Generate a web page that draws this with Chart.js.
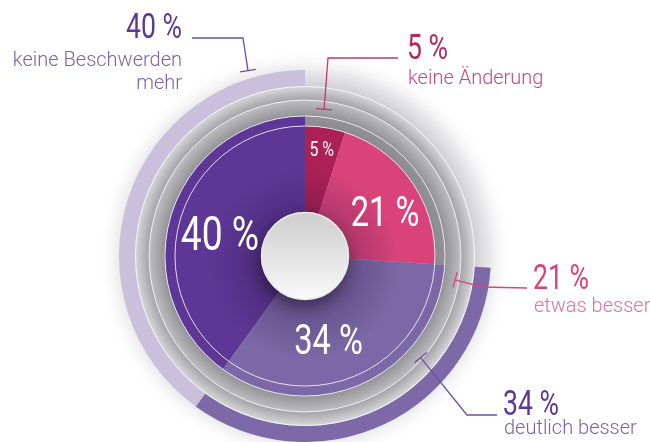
<!DOCTYPE html>
<html>
<head>
<meta charset="utf-8">
<script src="https://cdn.jsdelivr.net/npm/chart.js@4.4.1/dist/chart.umd.min.js"></script>
<style>
  html, body { margin: 0; padding: 0; background: #fff; }
  #wrap { width: 650px; height: 442px; position: relative; overflow: hidden; }
</style>
</head>
<body>
<div id="wrap"><canvas id="chart" width="650" height="442"></canvas></div>
<script>
// data
const categories = ['keine Änderung', 'etwas besser', 'deutlich besser', 'keine Beschwerden mehr'];
const values = [5, 21, 34, 40];
const valueLabels = ['5 %', '21 %', '34 %', '40 %'];
const subLabels = [['keine Änderung'], ['etwas besser'], ['deutlich besser'], ['keine Beschwerden', 'mehr']];

// styling
const sliceColors = ['#ab2155', '#d9437a', '#7c68a6', '#5e3796'];
const bandColors = ['rgba(0,0,0,0)', 'rgba(0,0,0,0)', '#7d69a7', '#cbc0dc'];
const NUM_FONT = 'Roboto, sans-serif';
const TXT_FONT = 'Roboto, "Open Sans", sans-serif';
const SQUEEZE = 0.76; // the numbers are set in a condensed face

// callout layout: anchor in polar coords (deg clockwise from top), elbow points, text pos
const callouts = [
  { angle: 7.4, r: 148, pts: [[328, 58], [398, 58]], x: 407, y: 59, align: 'left', dy: 25,
    color: '#b1295d', sub: '#c64a7a', line: '#c03a6b' },
  { angle: 99, r: 152, pts: [[482, 287], [527, 288]], x: 533, y: 289, align: 'left', dy: 23,
    color: '#d9427a', sub: '#e2709b', line: '#d24a7c' },
  { angle: 131.3, r: 154, pts: [[467, 415], [497, 415]], x: 503, y: 415, align: 'left', dy: 19,
    color: '#5d3796', sub: '#7c62a9', line: '#6c4fa3' },
  { angle: -17.1, r: 194, pts: [[243, 38], [192, 38]], x: 182, y: 38, align: 'right', dy: 28,
    color: '#5d3796', sub: '#7c62a9', line: '#6c4fa3' }
];
// slice label placement: radius and a small turn away from the mid angle (deg)
const labelRadius = [107, 90, 90, 87];
const labelTurn = [0, 7, 10, -6];
const labelSize = [21, 43, 43, 49];

function center(chart) {
  const a = chart.getDatasetMeta(0).data[0];
  return { x: a.x, y: a.y };
}

function drawNum(ctx, text, x, y, size, align) {
  ctx.save();
  ctx.translate(x, y);
  ctx.scale(SQUEEZE, 1);
  ctx.font = size + 'px ' + NUM_FONT;
  ctx.textAlign = align;
  ctx.fillText(text, 0, 0);
  ctx.restore();
}

let grayCache = null;
function grayGradient(chart) {
  const area = chart.chartArea;
  if (!area) return '#a0a0a4';
  if (grayCache) return grayCache;
  const cx = (area.left + area.right) / 2, cy = (area.top + area.bottom) / 2;
  const g = chart.ctx.createRadialGradient(cx, cy, 0, cx, cy, 170);
  const s = r => r / 170;
  g.addColorStop(s(128), '#88888d');
  g.addColorStop(s(140), '#929297');
  g.addColorStop(s(155.5), '#bcbcc0');
  g.addColorStop(s(156.5), '#a6a6aa');
  g.addColorStop(s(169), '#d4d4d7');
  g.addColorStop(1, '#d8d8da');
  grayCache = g;
  return g;
}

const decor = {
  id: 'decor',
  beforeDatasetsDraw(chart) {
    const { ctx } = chart;
    const c = center(chart);
    const g = ctx.createRadialGradient(c.x, c.y, 165, c.x, c.y, 208);
    g.addColorStop(0, 'rgba(200,200,204,1)');
    g.addColorStop(0.45, 'rgba(226,226,229,0.8)');
    g.addColorStop(1, 'rgba(255,255,255,0)');
    ctx.save();
    ctx.fillStyle = g;
    ctx.beginPath();
    ctx.arc(c.x, c.y, 208, 0, Math.PI * 2);
    ctx.fill();
    ctx.restore();
  },
  afterDatasetsDraw(chart) {
    const { ctx } = chart;
    const c = center(chart);
    const pie = chart.getDatasetMeta(3).data;
    const rim = chart.getDatasetMeta(2).data[0];
    const gray = chart.getDatasetMeta(1).data[0];
    const rPie = pie[0].outerRadius;

    ctx.save();
    // shading round the hub
    const sh = ctx.createRadialGradient(c.x, c.y + 8, 40, c.x, c.y + 8, 95);
    sh.addColorStop(0, 'rgba(30,10,50,0.28)');
    sh.addColorStop(1, 'rgba(30,10,50,0)');
    ctx.fillStyle = sh;
    ctx.beginPath();
    ctx.arc(c.x, c.y + 8, 95, 0, Math.PI * 2);
    ctx.fill();

    // thin white circles
    ctx.strokeStyle = 'rgba(255,255,255,0.85)';
    ctx.lineWidth = 0.9;
    const rings = [rPie, rim.outerRadius, gray.innerRadius + (gray.outerRadius - gray.innerRadius) * 0.53, gray.outerRadius - 0.5];
    rings.forEach(r => {
      ctx.beginPath();
      ctx.arc(c.x, c.y, r, 0, Math.PI * 2);
      ctx.stroke();
    });

    // hub
    ctx.save();
    ctx.shadowColor = 'rgba(20,10,30,0.5)';
    ctx.shadowBlur = 16;
    ctx.shadowOffsetX = -2;
    ctx.shadowOffsetY = 6;
    const hub = ctx.createLinearGradient(0, c.y - 44, 0, c.y + 44);
    hub.addColorStop(0, '#cdcdcd');
    hub.addColorStop(1, '#fafafa');
    ctx.fillStyle = hub;
    ctx.beginPath();
    ctx.arc(c.x, c.y, 44, 0, Math.PI * 2);
    ctx.fill();
    ctx.restore();
    ctx.strokeStyle = '#e8e8e8';
    ctx.lineWidth = 1.5;
    ctx.beginPath();
    ctx.arc(c.x, c.y, 43.5, 0, Math.PI * 2);
    ctx.stroke();

    // slice labels
    ctx.fillStyle = '#fff';
    ctx.textBaseline = 'middle';
    pie.forEach((arc, i) => {
      const mid = (arc.startAngle + arc.endAngle) / 2 + labelTurn[i] * Math.PI / 180;
      const r = labelRadius[i];
      drawNum(ctx, valueLabels[i], c.x + Math.cos(mid) * r, c.y + Math.sin(mid) * r, labelSize[i], 'center');
    });

    // callouts
    callouts.forEach((co, i) => {
      const a = co.angle * Math.PI / 180;
      const ax = c.x + Math.sin(a) * co.r, ay = c.y - Math.cos(a) * co.r;
      ctx.strokeStyle = co.line;
      ctx.lineWidth = 1.3;
      ctx.beginPath();
      ctx.moveTo(ax, ay);
      co.pts.forEach(p => ctx.lineTo(p[0], p[1]));
      ctx.stroke();
      // tick perpendicular to first segment
      const dx = co.pts[0][0] - ax, dy = co.pts[0][1] - ay;
      const len = Math.hypot(dx, dy);
      const px = -dy / len * 8, py = dx / len * 8;
      ctx.beginPath();
      ctx.moveTo(ax - px, ay - py);
      ctx.lineTo(ax + px, ay + py);
      ctx.stroke();

      ctx.textBaseline = 'alphabetic';
      ctx.fillStyle = co.color;
      drawNum(ctx, valueLabels[i], co.x, co.y, 35, co.align);
      ctx.textAlign = co.align;
      ctx.fillStyle = co.sub;
      ctx.font = '300 20px ' + TXT_FONT;
      subLabels[i].forEach((t, k) => ctx.fillText(t, co.x + (co.align === 'left' ? 1 : 0), co.y + co.dy + k * 23));
    });
    ctx.restore();
  }
};

new Chart(document.getElementById('chart'), {
  type: 'doughnut',
  data: {
    labels: categories,
    datasets: [
      { data: values, backgroundColor: bandColors, weight: 16, borderWidth: 0 },
      { data: values, backgroundColor: c => grayGradient(c.chart), weight: 30, borderWidth: 0 },
      { data: values, backgroundColor: c => (c.dataIndex < 2 ? grayGradient(c.chart) : sliceColors[c.dataIndex]), weight: 10, borderWidth: 0 },
      { data: values, backgroundColor: sliceColors, weight: 130, borderWidth: 0 }
    ]
  },
  options: {
    responsive: false,
    animation: false,
    cutout: 0,
    layout: { padding: { left: 119, right: 159, top: 70, bottom: 0 } },
    plugins: { legend: { display: false }, tooltip: { enabled: false } },
    events: []
  },
  plugins: [decor]
});
</script>
</body>
</html>
